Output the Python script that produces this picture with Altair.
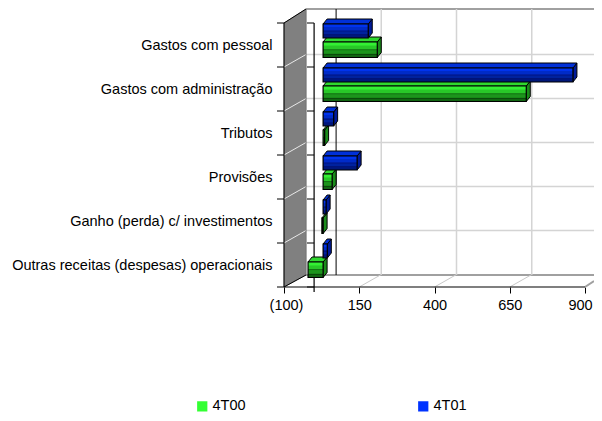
import altair as alt
import pandas as pd

categories = ["Outras receitas (despesas) operacionais", "Ganho (perda) c/ investimentos", "Provisões",
              "Tributos", "Gastos com administração", "Gastos com pessoal"]
values_4T00 = [-50, -4, 30, 5, 675, 180]
values_4T01 = [14, 10, 113, 35, 830, 150]
tick_values = [-100, 150, 400, 650, 900]
series = ["4T00", "4T01"]

FONT = "Liberation Sans"
K = 0.301
def ux(px): return (px - 284) / K - 100
def dxu(px): return px / K
def uy(py): return (287 - py) / 44

xscale = alt.Scale(domain=[-100, ux(594)], nice=False, zero=False)
yscale = alt.Scale(domain=[0, uy(9)], nice=False, zero=False)
js_labels = "[" + ",".join(f"'{c}'" for c in categories) + "]"
x_axis = alt.Axis(values=tick_values, grid=False, domain=False, tickColor="#000000", tickSize=6,
                  labelFont=FONT, labelFontSize=14.5, labelColor="#000000", labelPadding=5,
                  labelFlush=False, labelOverlap=False, title=None,
                  labelOffset={"condition": [{"test": "datum.value == 900", "value": -5},
                                             {"test": "datum.value < 0", "value": 2}], "value": 0},
                  labelExpr="datum.value < 0 ? '(' + abs(datum.value) + ')' : format(datum.value, 'd')")
y_axis = alt.Axis(values=[i + 0.5 for i in range(6)], grid=False, domain=False, ticks=False,
                  labelFont=FONT, labelFontSize=14.5, labelColor="#000000", labelPadding=12,
                  labelLimit=300, labelOverlap=False, title=None,
                  labelExpr=js_labels + "[floor(datum.value)]")
def X(f="x", **k): return alt.X(f + ":Q", scale=xscale, axis=x_axis, **k)
def Y(f="y", **k): return alt.Y(f + ":Q", scale=yscale, axis=y_axis, **k)

def lines(rows, color, w=1):
    df = pd.DataFrame(rows, columns=["x", "x2", "y", "y2"])
    return alt.Chart(df).mark_rule(color=color, strokeWidth=w).encode(
        x=X(), x2="x2:Q", y=Y(), y2="y2:Q")

# walls and floor, all expressed in the chart's own units
DEPTH_X, DEPTH_Y = 22, 12.5
slots = list(range(7))
wall = pd.DataFrame({"x": [ux(284), ux(306)], "y": [uy(287), uy(275)], "y2": [uy(23), uy(9)]})
wall_layer = alt.Chart(wall).mark_area(color="#808080", stroke="#555555", strokeWidth=0.5).encode(
    x=X(), y=Y(), y2="y2:Q")

back_x = [v for v in tick_values[1:]]
grid_v = lines([[v + dxu(DEPTH_X), v + dxu(DEPTH_X), uy(275), uy(9)] for v in back_x], "#d4d4d4", 1.5)
grid_h = lines([[ux(306), ux(594), s + DEPTH_Y / 44, s + DEPTH_Y / 44] for s in slots[1:6]], "#d4d4d4", 1.5)
top_edge = lines([[ux(306), ux(594), uy(9), uy(9)]], "#a0a0a0", 2)
back_floor = lines([[ux(306), ux(594), uy(275), uy(275)]], "#a0a0a0", 2)
wall_ticks = lines([[ux(284), ux(306), s, s + DEPTH_Y / 44] for s in slots[1:6]], "#e8e8e8", 1)
floor_diag = lines([[v, v + dxu(DEPTH_X), 0, DEPTH_Y / 44] for v in back_x[:3]], "#c8c8c8", 1)
floor_end = lines([[900, ux(594), 0, uy(281)]], "#a0a0a0", 2)
wall_left = lines([[ux(284), ux(284), 0, uy(23)], [ux(284), ux(306), uy(23), uy(9)],
                   [ux(284), ux(306), 0, uy(275)]], "#000000", 1)
wall_back_edge = lines([[ux(306), ux(306), uy(275), uy(9)]], "#808080", 1)
front_axis = lines([[ux(277), 900, 0, 0]], "#000000", 1.2)
left_ticks = lines([[ux(277), ux(284), s, s] for s in slots[1:]], "#000000", 1)
zero_front = lines([[0, 0, -5 / 44, uy(23)]], "#000000", 1.2)
zero_ticks = lines([[ux(307), 0, s, s] for s in slots], "#000000", 1)
zero_back = lines([[dxu(22), dxu(22), uy(275), uy(9)]], "#000000", 1)

# bars
BASE = dxu(9)
FACE_H = {"4T00": (19, 34.5), "4T01": (1, 15)}
FACET_X, FACET_Y = 4, 5
shades = {
    "4T00": [("#33f033", 0, .22), ("#28c828", .22, .46), ("#0f5f0f", .46, .56), ("#1c941c", .56, .74),
             ("#0a4a0a", .74, .84), ("#126412", .84, 1)],
    "4T01": [("#0033ee", 0, .22), ("#002bc8", .22, .46), ("#001166", .46, .56), ("#00229e", .56, .74),
             ("#000d55", .74, .84), ("#001878", .84, 1)],
}
top_col = {"4T00": "#2fd82f", "4T01": "#0030d8"}
side_col = {"4T00": "#1a8c1a", "4T01": "#001a99"}

faces, stripes, tops, sides = [], [], [], []
for s, vals in zip(series, [values_4T00, values_4T01]):
    for i, v in enumerate(vals):
        slot_top = i + 1
        a, b = FACE_H[s]
        y_hi, y_lo = slot_top - a / 44, slot_top - b / 44
        x0, x1 = min(v, 0) + BASE, max(v, 0) + BASE
        faces.append(dict(series=s, x=x0, x2=x1, y=y_lo, y2=y_hi))
        for c, f0, f1 in shades[s]:
            stripes.append(dict(fill=c, x=x0, x2=x1, y=y_hi - (y_hi - y_lo) * f0, y2=y_hi - (y_hi - y_lo) * f1))
        dx, dy = dxu(FACET_X), FACET_Y / 44
        bid = f"{s}{i}"
        tops += [dict(id=bid, fill=top_col[s], y=y_hi, x=x0, x2=x1),
                 dict(id=bid, fill=top_col[s], y=y_hi + dy, x=x0 + dx, x2=x1 + dx)]
        sides += [dict(id=bid, fill=side_col[s], x=x1, y=y_lo, y2=y_hi),
                  dict(id=bid, fill=side_col[s], x=x1 + dx, y=y_lo + dy, y2=y_hi + dy)]

faces, stripes, tops, sides = map(pd.DataFrame, (faces, stripes, tops, sides))

top_layer = alt.Chart(tops).mark_area(orient="horizontal", stroke="#000000", strokeWidth=1).encode(
    y=Y(), x=X(), x2="x2:Q", detail="id:N", fill=alt.Fill("fill:N", scale=None))
side_layer = alt.Chart(sides).mark_area(orient="vertical", stroke="#000000", strokeWidth=1).encode(
    x=X(), y=Y(), y2="y2:Q", detail="id:N", fill=alt.Fill("fill:N", scale=None))
base_layer = alt.Chart(faces).mark_rect(strokeWidth=0).encode(
    x=X(), x2="x2:Q", y=Y(), y2="y2:Q",
    color=alt.Color("series:N", scale=alt.Scale(domain=series, range=["#33ff33", "#0033ff"]),
                    legend=alt.Legend(orient="none", legendX=-89, legendY=390, title=None, columns=2,
                                      columnPadding=170, symbolType="square", symbolSize=105,
                                      symbolStrokeWidth=0, labelFont=FONT, labelFontSize=14.5,
                                      labelColor="#000000", labelOffset=3)))
stripe_layer = alt.Chart(stripes).mark_rect(strokeWidth=0).encode(
    x=X(), x2="x2:Q", y=Y(), y2="y2:Q", fill=alt.Fill("fill:N", scale=None))
outline_layer = alt.Chart(faces).mark_rect(fillOpacity=0, stroke="#000000", strokeWidth=1.2).encode(
    x=X(), x2="x2:Q", y=Y(), y2="y2:Q")

chart = alt.layer(
    top_edge, back_floor, grid_v, grid_h, floor_diag, floor_end, zero_back, wall_layer, wall_ticks,
    wall_back_edge, wall_left, front_axis, left_ticks, zero_front, zero_ticks,
    side_layer, top_layer, base_layer, stripe_layer, outline_layer,
).properties(
    width=310, height=278,
    autosize=alt.AutoSizeParams(type="none"),
    padding={"left": 276, "top": 1, "right": 0, "bottom": 126},
).configure_view(stroke=None)

chart.save("out.html", embed_options={"renderer": "svg", "actions": False})
